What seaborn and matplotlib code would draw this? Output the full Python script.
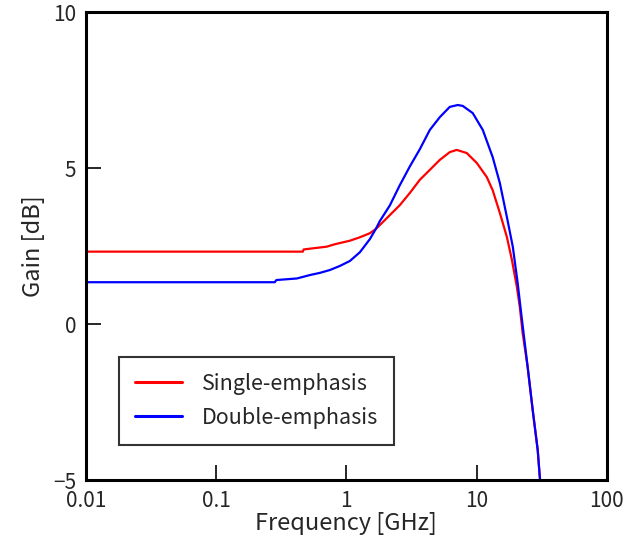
import pandas as pd
import matplotlib
matplotlib.use("Agg")
import matplotlib.pyplot as plt
import seaborn as sns

# frequency [GHz] and gain [dB]
single_freq = [0.01, 0.1, 0.3, 0.463, 0.47, 0.708, 0.82, 1.064, 1.27, 1.515, 1.68, 2.157,
               2.574, 3.073, 3.664, 4.375, 5.22, 6.23, 7.05, 8.41, 10.05, 11.99, 13.3,
               15.1, 17.1, 18.7, 20.4, 21.5, 22.6, 24.7, 27.0, 29.5, 30.6, 31.7]
single_gain = [2.32, 2.32, 2.32, 2.32, 2.39, 2.48, 2.56, 2.67, 2.78, 2.91, 3.04, 3.49,
               3.81, 4.20, 4.62, 4.94, 5.26, 5.51, 5.58, 5.48, 5.16, 4.71, 4.29,
               3.56, 2.79, 2.05, 1.19, 0.54, -0.29, -1.38, -2.76, -4.04, -4.9, -5.5]

double_freq = [0.01, 0.1, 0.282, 0.29, 0.417, 0.525, 0.627, 0.746, 0.89, 1.064, 1.27, 1.515,
               1.68, 1.808, 2.157, 2.574, 3.073, 3.664, 4.375, 5.22, 6.23, 7.18, 7.84,
               9.35, 11.17, 13.3, 15.1, 17.1, 19.0, 20.7, 22.2, 24.7, 27.0, 29.5, 30.6, 31.7]
double_gain = [1.34, 1.34, 1.34, 1.41, 1.46, 1.57, 1.64, 1.73, 1.86, 2.02, 2.3, 2.72,
               3.04, 3.3, 3.8, 4.45, 5.05, 5.6, 6.22, 6.63, 6.96, 7.02, 6.99,
               6.76, 6.22, 5.35, 4.52, 3.43, 2.47, 1.31, 0.22, -1.38, -2.76, -4.04, -4.9, -5.5]

labels = ["Single-emphasis", "Double-emphasis"]

df = pd.concat([
    pd.DataFrame({"freq": single_freq, "gain": single_gain, "kind": labels[0]}),
    pd.DataFrame({"freq": double_freq, "gain": double_gain, "kind": labels[1]}),
])

sns.set_style("white")
plt.rcParams['font.family'] = ['Noto Sans CJK JP', 'DejaVu Sans']

fig = plt.figure(figsize=(6.34, 5.44), dpi=100)
ax = fig.add_axes([0.1356, 0.1176, 0.8214, 0.8603])

sns.lineplot(data=df, x="freq", y="gain", hue="kind", palette=["#ff0000", "#0000ff"],
             linewidth=1.6, sort=False, estimator=None, ax=ax)

ax.set_xscale("log")
ax.set_xlim(0.01, 100)
ax.set_ylim(-5, 10)
ax.set_xticks([0.01, 0.1, 1, 10, 100])
ax.set_xticklabels(["0.01", "0.1", "1", "10", "100"])
ax.set_yticks([-5, 0, 5, 10])
ax.set_yticklabels(["\u22125", "0", "5", "10"])
ax.minorticks_off()
ax.tick_params(direction="in", length=11, width=1.4, labelsize=15, pad=7,
               top=False, right=False, bottom=True, left=True)

for s in ax.spines.values():
    s.set_linewidth(2.2)
    s.set_color("black")

ax.set_xlabel("Frequency [GHz]", fontsize=17, labelpad=0)
ax.set_ylabel("Gain [dB]", fontsize=17, labelpad=6)

leg = ax.legend(loc="lower left", bbox_to_anchor=(0.063, 0.075), fontsize=15.5,
                frameon=True, fancybox=False, handlelength=2.2, handletextpad=0.9,
                borderpad=0.75, labelspacing=0.55, borderaxespad=0)
leg.get_frame().set_edgecolor("black")
leg.get_frame().set_linewidth(1.5)
for line in leg.get_lines():
    line.set_linewidth(2.2)

fig.savefig("out.png", dpi=100)
